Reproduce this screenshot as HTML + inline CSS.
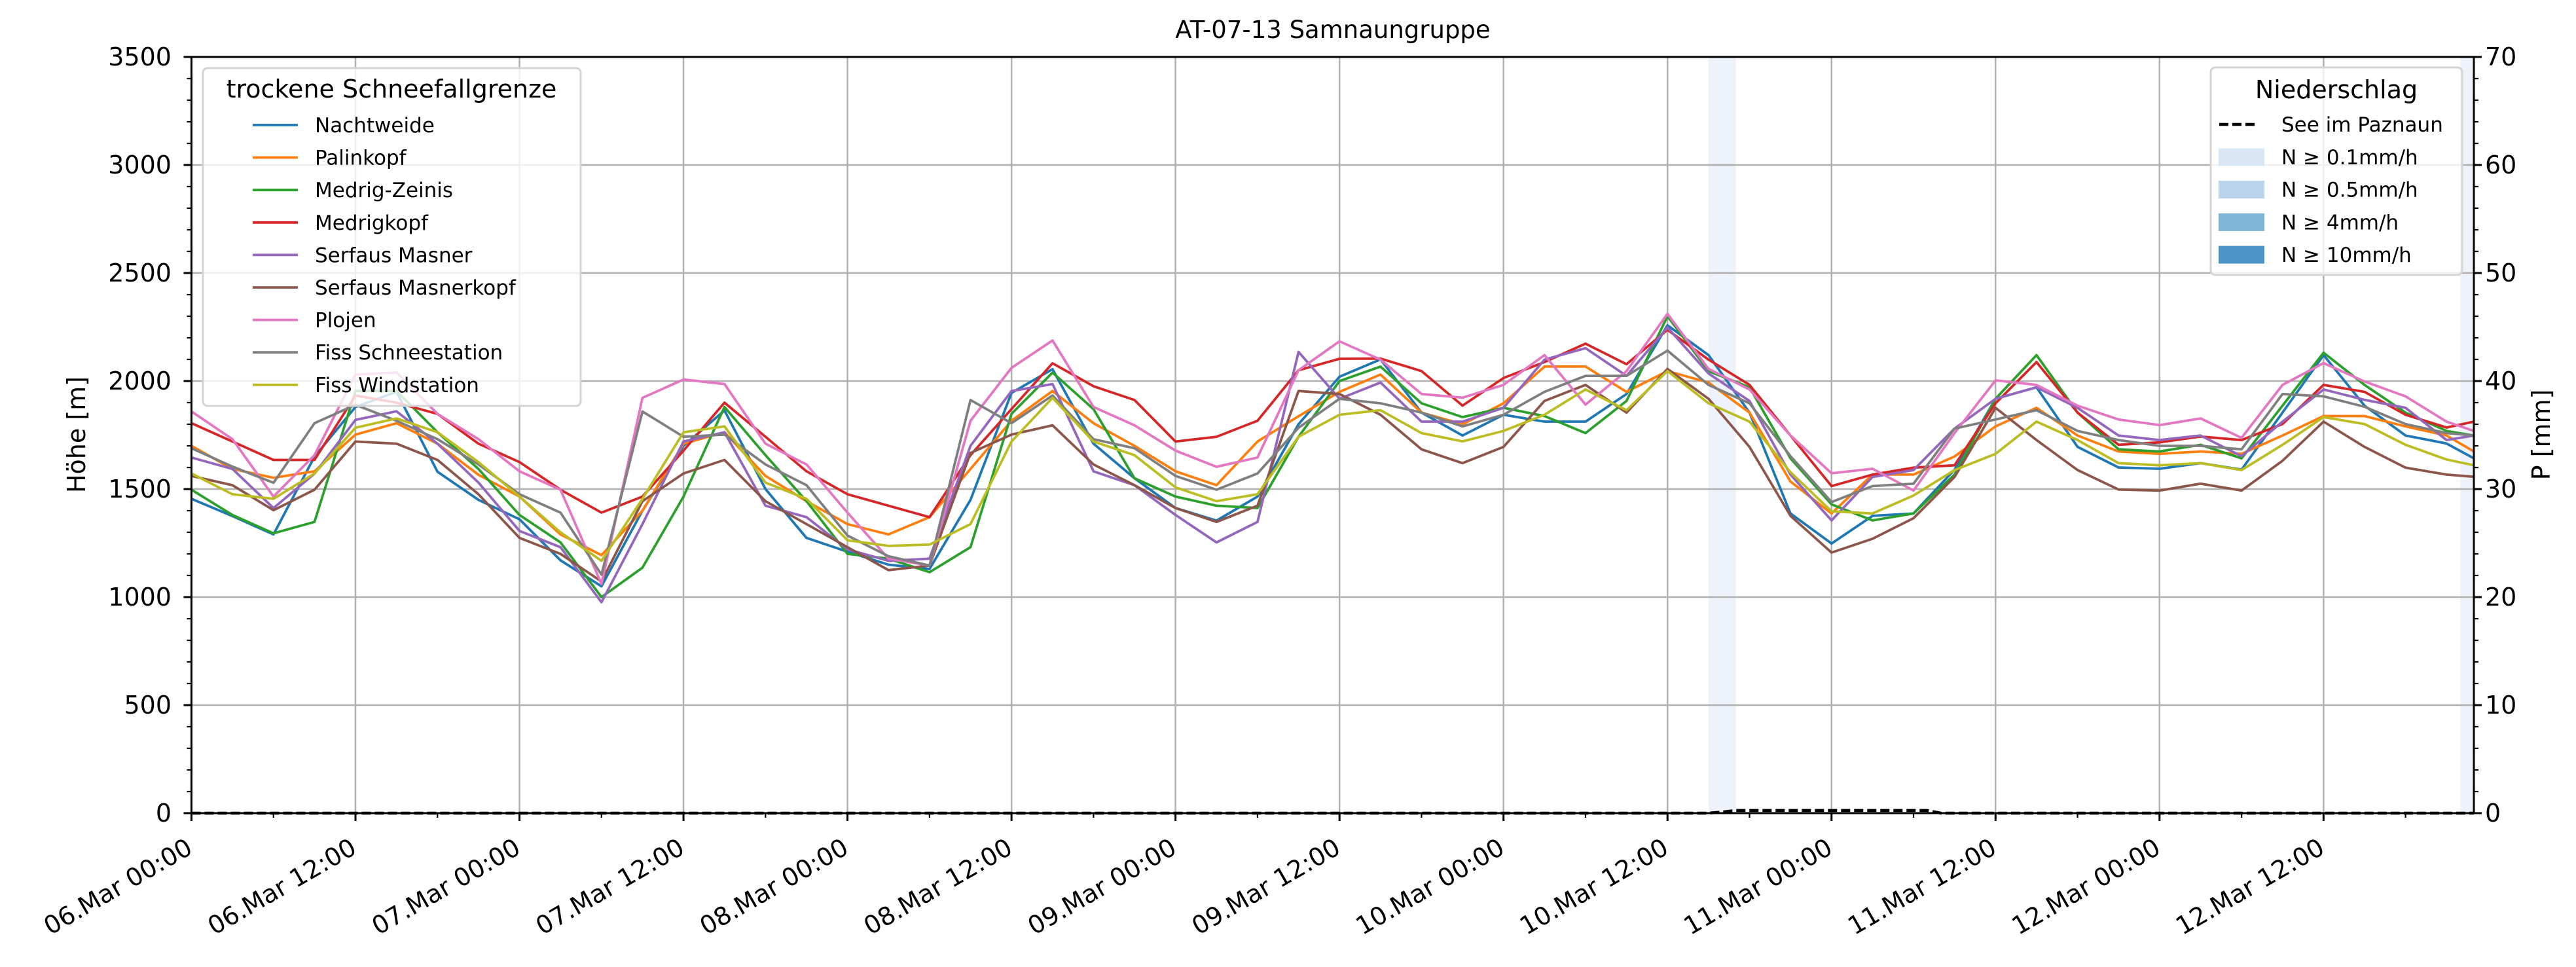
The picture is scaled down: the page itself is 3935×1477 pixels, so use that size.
<!DOCTYPE html>
<html><head><meta charset="utf-8">
<style>
html,body{margin:0;padding:0;background:#fff;}
svg{display:block;font-family:"DejaVu Sans","Liberation Sans",sans-serif;}
</style></head>
<body>
<svg id="chart" xmlns="http://www.w3.org/2000/svg" width="3935" height="1477" viewBox="0 0 3935 1477">
<rect x="0" y="0" width="3935" height="1477" fill="#fff"/>
<g id="spans"></g>
<g id="grid"></g>
<g id="series"></g>
<g id="precip"></g>
<g id="axes"></g>
<g id="legends"></g>
</svg>
<script>
const hours = [0,3,6,9,12,15,18,21,24,27,30,33,36,39,42,45,48,51,54,57,60,63,66,69,72,75,78,81,84,87,90,93,96,99,102,105,108,111,114,117,120,123,126,129,132,135,138,141,144,147,150,153,156,159,162,165,167];
const seriesNames = ["Nachtweide","Palinkopf","Medrig-Zeinis","Medrigkopf","Serfaus Masner","Serfaus Masnerkopf","Plojen","Fiss Schneestation","Fiss Windstation"];
const seriesColors = ["#1f77b4","#ff7f0e","#2ca02c","#d62728","#9467bd","#8c564b","#e377c2","#7f7f7f","#bcbd22"];
const nachtweide = [1455,1375,1290,1650,1880,1950,1580,1450,1360,1170,1050,1400,1700,1864,1500,1274,1210,1150,1130,1450,1945,2055,1710,1550,1412,1354,1465,1800,2020,2100,1854,1748,1844,1812,1812,1940,2258,2120,1854,1387,1248,1376,1387,1590,1918,1971,1695,1600,1594,1620,1590,1854,2120,1886,1748,1711,1642];
const palinkopf = [1700,1593,1552,1582,1752,1805,1710,1566,1465,1290,1194,1400,1710,1763,1561,1444,1338,1290,1370,1593,1816,1954,1805,1700,1582,1518,1720,1837,1950,2030,1854,1800,1897,2067,2067,1950,2046,1993,1854,1535,1387,1567,1567,1651,1790,1876,1748,1674,1663,1674,1663,1748,1838,1838,1790,1748,1674];
const medrigZeinis = [1497,1380,1295,1348,1954,1954,1763,1593,1380,1253,1000,1136,1465,1880,1657,1444,1200,1178,1115,1231,1848,2039,1870,1550,1465,1423,1412,1742,2000,2067,1897,1833,1876,1838,1759,1908,2300,2046,1971,1642,1429,1355,1387,1567,1918,2120,1854,1684,1674,1705,1642,1886,2131,1982,1854,1769,1748];
const medrigkopf = [1805,1720,1635,1635,1933,1900,1848,1710,1625,1497,1391,1465,1678,1900,1742,1582,1476,1423,1370,1657,1870,2082,1976,1912,1720,1742,1816,2050,2103,2104,2046,1886,2014,2088,2173,2078,2237,2099,1982,1748,1514,1567,1599,1610,1897,2088,1854,1705,1716,1743,1727,1801,1982,1950,1844,1785,1812];
const serfausMasner = [1646,1593,1412,1571,1820,1860,1710,1530,1306,1231,976,1338,1720,1763,1423,1370,1221,1168,1178,1700,1954,1986,1582,1518,1380,1253,1348,2135,1918,1993,1812,1812,1876,2099,2152,2024,2248,2035,1908,1567,1355,1556,1588,1780,1918,1971,1876,1748,1727,1748,1652,1812,1961,1913,1876,1727,1748];
const serfausMasnerkopf = [1561,1518,1402,1497,1720,1710,1635,1476,1274,1200,1072,1444,1572,1635,1444,1338,1231,1125,1146,1667,1752,1795,1614,1518,1412,1348,1423,1954,1940,1844,1684,1620,1695,1908,1982,1854,2056,1918,1695,1376,1206,1270,1365,1556,1876,1727,1588,1498,1493,1525,1493,1631,1812,1695,1599,1567,1557];
const plojen = [1859,1731,1465,1657,2030,2040,1848,1731,1582,1497,1061,1922,2007,1986,1710,1614,1391,1178,1146,1816,2061,2188,1880,1795,1678,1603,1646,2050,2184,2099,1940,1923,1982,2120,1891,2046,2311,2056,1961,1748,1573,1594,1493,1759,2003,1982,1886,1822,1796,1827,1737,1982,2083,1998,1929,1812,1769];
const fissSchneestation = [1689,1604,1529,1805,1890,1816,1731,1614,1476,1391,1104,1859,1742,1752,1614,1518,1285,1189,1146,1912,1805,1933,1731,1689,1561,1497,1572,1784,1918,1897,1854,1790,1844,1950,2024,2024,2141,1982,1897,1652,1440,1514,1525,1780,1822,1865,1769,1727,1700,1700,1684,1940,1929,1881,1801,1759,1748];
const fissWindstation = [1572,1476,1455,1572,1784,1827,1763,1625,1465,1300,1168,1455,1763,1790,1530,1455,1263,1237,1243,1338,1720,1922,1720,1657,1508,1444,1476,1742,1844,1865,1759,1721,1769,1844,1961,1865,2046,1897,1812,1578,1397,1387,1470,1588,1663,1812,1727,1620,1610,1620,1588,1705,1833,1801,1705,1637,1610];
const precipHours = [0,111,112,113,127,128,167];
const precipValues = [0,0,0.1,0.25,0.25,0,0];
const spanStart = [111,166];
const spanEnd = [113,167];
const xTickLabels = ["06.Mar 00:00","06.Mar 12:00","07.Mar 00:00","07.Mar 12:00","08.Mar 00:00","08.Mar 12:00","09.Mar 00:00","09.Mar 12:00","10.Mar 00:00","10.Mar 12:00","11.Mar 00:00","11.Mar 12:00","12.Mar 00:00","12.Mar 12:00"];
const yTicks = [0,500,1000,1500,2000,2500,3000,3500];
const pTicks = [0,10,20,30,40,50,60,70];

const allSeries = [nachtweide,palinkopf,medrigZeinis,medrigkopf,serfausMasner,serfausMasnerkopf,plojen,fissSchneestation,fissWindstation];
const L=292.5, R=3779, T=87, B=1242;
const HMAX=167;
function xs(h){return L+(R-L)*h/HMAX;}
function ys(v){return B-(B-T)*v/3500;}
function yp(p){return B-(B-T)*p/70;}
const NS="http://www.w3.org/2000/svg";
function mk(tag,attrs,parent){const e=document.createElementNS(NS,tag);for(const k in attrs)e.setAttribute(k,attrs[k]);parent.appendChild(e);return e;}

const gSp=document.getElementById('spans');
spanStart.forEach((s,i)=>{
  const r=mk('rect',{x:xs(s),y:T,width:xs(spanEnd[i])-xs(s),height:B-T,fill:'#eef3fb'},gSp);
  
  
});

const gG=document.getElementById('grid');
xTickLabels.forEach((t,i)=>{
  const x=xs(i*12);
  const l=mk('line',{x1:x,x2:x,y1:T,y2:B,stroke:'#b0b0b0','stroke-width':2.5},gG);
  
  
});
yTicks.forEach(v=>{
  const y=ys(v);
  const l=mk('line',{x1:L,x2:R,y1:y,y2:y,stroke:'#b0b0b0','stroke-width':2.5},gG);
  
  
});

const gS=document.getElementById('series');
allSeries.forEach((vals,i)=>{
  const pts=vals.map((v,j)=>xs(hours[j]).toFixed(1)+','+ys(v).toFixed(1)).join(' ');
  const p=mk('polyline',{points:pts,fill:'none',stroke:seriesColors[i],'stroke-width':3.8,'stroke-linejoin':'round'},gS);
  
  
});

const gP=document.getElementById('precip');
const pp=precipValues.map((v,j)=>xs(precipHours[j]).toFixed(1)+','+yp(v).toFixed(1)).join(' ');
const pl=mk('polyline',{points:pp,fill:'none',stroke:'#000','stroke-width':4.5,'stroke-dasharray':'14,6'},gP);



const gA=document.getElementById('axes');
mk('rect',{x:L,y:T,width:R-L,height:B-T,fill:'none',stroke:'#000','stroke-width':3},gA);
for(let v=0;v<=3500;v+=100){
  const y=ys(v), major=v%500===0;
  mk('line',{x1:L,x2:L-(major?12:7),y1:y,y2:y,stroke:'#000','stroke-width':major?3:2.2},gA);
}
yTicks.forEach(v=>{
  const t=mk('text',{x:262,y:ys(v)+13,'text-anchor':'end','font-size':38,fill:'#000'},gA);
  t.textContent=v;
  
  
});
for(let p=0;p<=70;p+=2){
  const y=yp(p), major=p%10===0;
  mk('line',{x1:R,x2:R+(major?12:7),y1:y,y2:y,stroke:'#000','stroke-width':major?3:2.2},gA);
}
pTicks.forEach(p=>{
  const t=mk('text',{x:3796,y:yp(p)+13,'text-anchor':'start','font-size':38,fill:'#000'},gA);
  t.textContent=p;
  
  
});
for(let h=0;h<=HMAX;h+=6){
  const x=xs(h), major=h%12===0;
  mk('line',{x1:x,x2:x,y1:B,y2:B+(major?12:7),stroke:'#000','stroke-width':major?3:2.2},gA);
}
xTickLabels.forEach((s,i)=>{
  const x=xs(i*12);
  const t=mk('text',{transform:`translate(${x+4},1302) rotate(-30)`,'text-anchor':'end','font-size':38,fill:'#000'},gA);
  t.textContent=s;
  
  
});
</script>
<svg width="0" height="0" style="position:absolute"></svg>
<script>
const svg=document.getElementById('chart');
const gL=document.getElementById('legends');
function tx(x,y,s,size,anchor,parent,name,extra){
  const t=mk('text',Object.assign({x:x,y:y,'font-size':size,'text-anchor':anchor||'start',fill:'#000'},extra||{}),parent);
  t.textContent=s;
  
  
  return t;
}
tx(2036,58,'AT-07-13 Samnaungruppe',37,'middle',gL,'chart-title');
tx(0,0,'Höhe [m]',38,'middle',gL,'y-axis-title',{transform:'translate(130,664) rotate(-90)'});
tx(0,0,'P [mm]',38,'middle',gL,'y2-axis-title',{transform:'translate(3895,664) rotate(-90)'});

const leg1=mk('g',{},gL);


mk('rect',{x:310,y:104,width:577,height:516,rx:7,fill:'#fff','fill-opacity':0.8,stroke:'#d4d4d4','stroke-width':3},leg1);
tx(598,149,'trockene Schneefallgrenze',38,'middle',leg1,'legend-title');
seriesNames.forEach((n,i)=>{
  const y=191+i*49.6;
  const l=mk('line',{x1:386,x2:455,y1:y,y2:y,stroke:seriesColors[i],'stroke-width':3.8},leg1);
  
  
  tx(481,y+11,n,31,'start',leg1,'legend-entry');
});

const leg2=mk('g',{},gL);


mk('rect',{x:3377,y:103,width:384,height:317,rx:7,fill:'#fff','fill-opacity':0.8,stroke:'#d4d4d4','stroke-width':3},leg2);
tx(3569,150,'Niederschlag',38,'middle',leg2,'legend-title');
mk('line',{x1:3390,x2:3448,y1:190,y2:190,stroke:'#000','stroke-width':4.5,'stroke-dasharray':'14,6'},leg2);
tx(3485,201,'See im Paznaun',31,'start',leg2,'legend-entry');
const patchColors=['#d9e7f5','#b9d4ea','#80b6d8','#4a96c8'];
const patchLabels=['N ≥ 0.1mm/h','N ≥ 0.5mm/h','N ≥ 4mm/h','N ≥ 10mm/h'];
patchLabels.forEach((s,i)=>{
  const y=240+i*49.7;
  const r=mk('rect',{x:3389,y:y-13.5,width:70,height:27,fill:patchColors[i]},leg2);
  
  
  tx(3485,y+11,s,31,'start',leg2,'legend-entry');
});
</script>
</body></html>
